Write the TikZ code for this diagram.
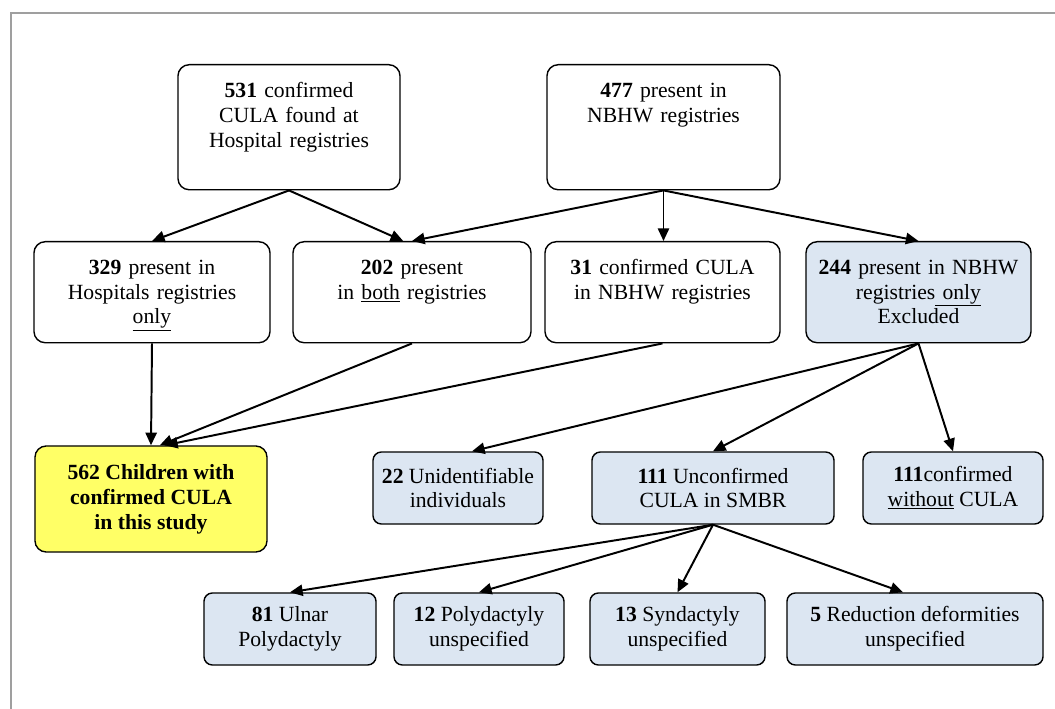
\documentclass[tikz,border=0pt]{standalone}
\usepackage{fontspec}
\setmainfont{Liberation Serif}
\usetikzlibrary{arrows.meta}
\definecolor{boxblue}{HTML}{DCE6F2}
\definecolor{boxyellow}{HTML}{FFFF66}
\newcommand{\toptxt}[2]{\parbox[c][#1][t]{\linewidth}{\centering #2}}
\begin{document}
\begin{tikzpicture}[x=0.025cm, y=-0.025cm,
    font=\fontsize{15.4}{17.75}\selectfont,
    tbox/.style={draw, line width=1pt, rounded corners=8pt, anchor=north, inner xsep=0pt, inner ysep=0.45cm},
    sbox/.style={draw, line width=1pt, rounded corners=6pt, fill=boxblue, align=center, inner sep=0pt},
    arr/.style={line width=1.4pt, -{Triangle[length=9pt,width=8pt]}}]
            \useasboundingbox (0,0) rectangle (1055,709);
            \draw[gray!75, line width=1.2pt] (11,720)--(11,13)--(1070,13);

            \node[tbox, text width=5.55cm] (hosp) at (289,64) {\toptxt{2.225cm}{\textbf{531} confirmed\\CULA found at\\Hospital registries}};
            \node[tbox, text width=5.825cm] (nbhw) at (663.5,64) {\toptxt{2.225cm}{\textbf{477} present in\\NBHW registries}};

            \node[tbox, text width=5.9cm] (honly) at (152,241) {\toptxt{1.625cm}{\textbf{329} present in\\Hospitals registries\\\underline{only}}};
            \node[tbox, text width=5.95cm] (both) at (412,241) {\toptxt{1.625cm}{\textbf{202} present\\in \underline{both} registries}};
            \node[tbox, text width=5.875cm] (nconf) at (662.5,241) {\toptxt{1.625cm}{\textbf{31} confirmed CULA\\in NBHW registries}};
            \node[tbox, fill=boxblue, text width=5.625cm] (nonly) at (918.5,241) {\toptxt{1.625cm}{\textbf{244} present in NBHW\\registries\underline{ only}\\Excluded}};

            \node[draw, line width=1pt, rounded corners=8pt, fill=boxyellow, align=center, inner sep=0pt,
                  minimum width=5.8cm, minimum height=2.65cm, font=\fontsize{15.4}{17.75}\selectfont\bfseries] (study) at (151,499) {562 Children with\\confirmed CULA\\in this study};
            \node[sbox, minimum width=4.25cm, minimum height=1.8cm] (unid) at (458,488) {\textbf{22} Unidentifiable\\individuals};
            \node[sbox, minimum width=6.05cm, minimum height=1.8cm] (uncf) at (713,488) {\textbf{111} Unconfirmed\\CULA in SMBR};
            \node[sbox, minimum width=4.5cm, minimum height=1.8cm] (without) at (953,488) {\textbf{111}confirmed\\\underline{without} CULA};

            \node[sbox, minimum width=4.3cm, minimum height=1.8cm] (ulnar) at (290,629) {\textbf{81} Ulnar\\Polydactyly};
            \node[sbox, minimum width=4.25cm, minimum height=1.8cm] (poly) at (479,629) {\textbf{12} Polydactyly\\unspecified};
            \node[sbox, minimum width=4.375cm, minimum height=1.8cm] (synd) at (677.5,629) {\textbf{13} Syndactyly\\unspecified};
            \node[sbox, minimum width=6.4cm, minimum height=1.8cm] (redu) at (915,629) {\textbf{5} Reduction deformities\\unspecified};

            \draw[arr] (hosp.south)--(honly.north);
            \draw[arr] (hosp.south)--([xshift=-0.22cm]both.north);
            \draw[arr] (nbhw.south)--(both.north);
            \draw[arr] (nbhw.south)--(nbhw.south |- nconf.north);
            \draw[arr] (nbhw.south)--(nonly.north);
            \draw[arr] (honly.south)--(study.north);
            \draw[arr] (both.south)--([xshift=0.22cm]study.north);
            \draw[arr] (nconf.south)--([xshift=0.35cm]study.north);
            \draw[arr] (nonly.south)--([xshift=0.35cm]unid.north);
            \draw[arr] (nonly.south)--(uncf.north);
            \draw[arr] (nonly.south)--(without.north);
            \draw[arr] (uncf.south)--(ulnar.north);
            \draw[arr] (uncf.south)--(poly.north);
            \draw[arr] (uncf.south)--(synd.north);
            \draw[arr] (uncf.south)--([xshift=-0.3cm]redu.north);
    
        \end{tikzpicture}
\end{document}
